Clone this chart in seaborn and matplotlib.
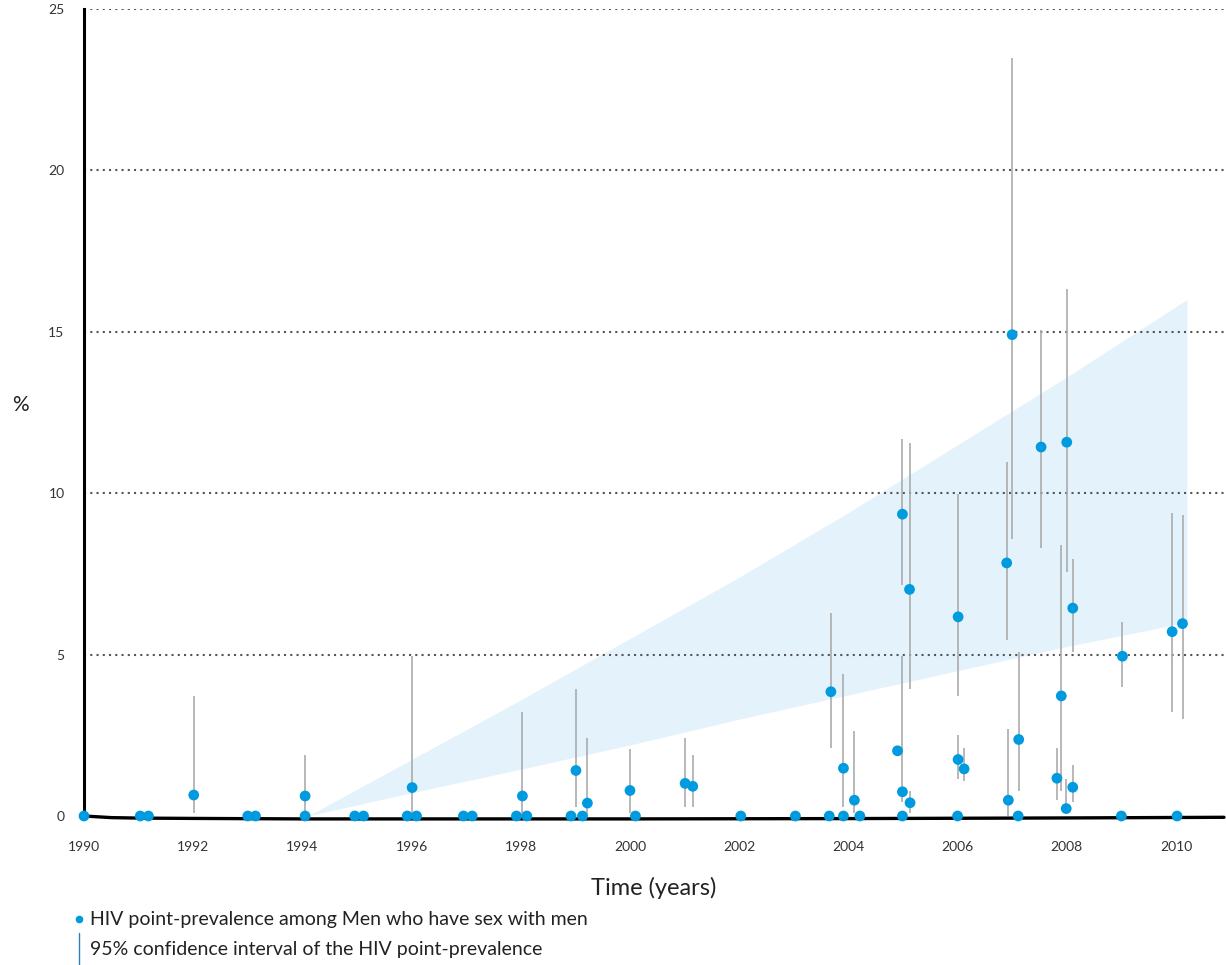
import matplotlib
matplotlib.use("Agg")
import matplotlib.pyplot as plt
from matplotlib.lines import Line2D
import seaborn as sns
import numpy as np
import pandas as pd

# surveys reported at 0 %
zero_years = [1990.0, 1991.03, 1991.18, 1993.0, 1993.14, 1994.05, 1994.96, 1995.12,
              1995.92, 1996.09, 1996.95, 1997.11, 1997.92, 1998.11, 1998.92, 1999.13,
              2000.1, 2002.03, 2003.03, 2003.65, 2003.91, 2004.21, 2004.99, 2006.0,
              2007.11, 2009.0, 2010.02]

# surveys with a non-zero point-prevalence and their 95% CI
pt_years = [1992.01, 1994.05, 1996.01, 1998.03, 1999.01, 1999.22, 2000.0, 2001.01,
            2001.15, 2003.68, 2003.91, 2004.11, 2004.9, 2004.99, 2004.99, 2005.12,
            2005.13, 2006.01, 2006.01, 2006.12, 2006.93, 2006.9, 2007.0, 2007.12,
            2007.53, 2007.82, 2007.9, 2007.99, 2008.0, 2008.11, 2008.11, 2009.02,
            2009.93, 2010.12]
pt_values = [0.65, 0.62, 0.88, 0.62, 1.41, 0.40, 0.79, 1.01,
             0.92, 3.85, 1.48, 0.49, 2.02, 9.35, 0.75, 7.02,
             0.41, 6.17, 1.75, 1.46, 0.49, 7.84, 14.91, 2.37,
             11.43, 1.17, 3.72, 0.23, 11.58, 6.44, 0.89, 4.95,
             5.71, 5.96]
ci_low = [0.08, 0.0, 0.0, 0.0, 0.29, 0.0, 0.10, 0.29,
          0.29, 2.11, 0.29, 0.08, np.nan, 7.15, 0.44, 3.93,
          0.08, 3.72, 1.15, 1.08, 0.0, 5.45, 8.57, 0.78,
          8.31, 0.50, 0.77, 0.08, 7.56, 5.09, 0.42, 4.00,
          3.23, 3.00]
ci_high = [3.72, 1.89, 4.95, 3.22, 3.92, 2.41, 2.09, 2.41,
           1.89, 6.29, 4.40, 2.63, np.nan, 11.69, 4.95, 11.54,
           0.77, 9.99, 2.51, 2.10, 2.69, 10.97, 23.47, 5.09,
           15.07, 2.10, 8.39, 1.14, 16.34, 7.96, 1.58, 6.02,
           9.40, 9.31]

# projected prevalence band
band_years = [1994.1, 1996, 1998, 2000, 2002, 2004, 2006, 2008, 2010.2]
band_low = [0.0, 0.72, 1.45, 2.2, 3.0, 3.75, 4.5, 5.25, 6.0]
band_high = [0.0, 1.75, 3.6, 5.5, 7.4, 9.4, 11.5, 13.6, 16.0]

# fitted central line (hugs zero)
fit_years = [1990.0, 1990.5, 1991, 1992, 1994, 2000, 2004, 2008, 2010.88]
fit_values = [0.0, -0.05, -0.065, -0.075, -0.09, -0.09, -0.08, -0.06, -0.04]

blue = "#009ADE"
grey = "#ABABAB"

sns.set_style("white")
plt.rcParams["font.family"] = ["Lato", "DejaVu Sans"]

points = pd.DataFrame({
    "year": zero_years + pt_years,
    "value": [0.0] * len(zero_years) + pt_values,
})

fig = plt.figure(figsize=(12.26, 9.65), dpi=100)
ax = fig.add_axes([84 / 1226, 149 / 965, 1140 / 1226, 807 / 965])

ax.fill_between(band_years, band_low, band_high, color="#E4F3FB", lw=0, zorder=1)
for y in [5, 10, 15, 20, 25]:
    ax.axhline(y, color="#555555", lw=1.5, ls=(0, (1, 2)), zorder=2)
ax.vlines(pt_years, ci_low, ci_high, color=grey, lw=1.2, zorder=3)
sns.lineplot(x=fit_years, y=fit_values, color="black", lw=2.4, ax=ax,
             zorder=4, clip_on=False)
sns.scatterplot(data=points, x="year", y="value", color=blue, s=60,
                edgecolor="none", ax=ax, zorder=5, clip_on=False)

ax.set_xlim(1990, 2010.88)
ax.set_ylim(0, 25)
ax.set_xticks(range(1990, 2011, 2))
ax.set_yticks([0, 5, 10, 15, 20, 25])
ax.xaxis.set_tick_params(length=0, pad=18, labelsize=10, labelcolor="#333333")
ax.yaxis.set_tick_params(length=0, pad=14, labelsize=10, labelcolor="#333333")

for side in ["top", "right", "bottom"]:
    ax.spines[side].set_visible(False)
ax.spines["left"].set_color("black")
ax.spines["left"].set_linewidth(2.2)

ax.set_xlabel("Time (years)", fontsize=17, color="#222222")
ax.xaxis.set_label_coords(0.5, -0.075)
ax.set_ylabel("%", fontsize=15, rotation=0, color="#222222", ha="center", va="center")
ax.yaxis.set_label_coords(-0.056, 0.509)

# legend drawn by hand below the axes
fig.add_artist(Line2D([79 / 1226], [1 - 919 / 965], marker="o", color=blue,
                      markersize=5.5, markeredgewidth=0, transform=fig.transFigure))
fig.add_artist(Line2D([79 / 1226, 79 / 1226], [1 - 933 / 965, 0], color="#2E7FC0",
                      lw=1.0, transform=fig.transFigure))
fig.text(90 / 1226, 1 - 919 / 965, "HIV point-prevalence among Men who have sex with men",
         fontsize=14, va="center", color="#222222")
fig.text(90 / 1226, 1 - 950 / 965, "95% confidence interval of the HIV point-prevalence",
         fontsize=14, va="center", color="#222222")

fig.savefig("out.png", dpi=100)
